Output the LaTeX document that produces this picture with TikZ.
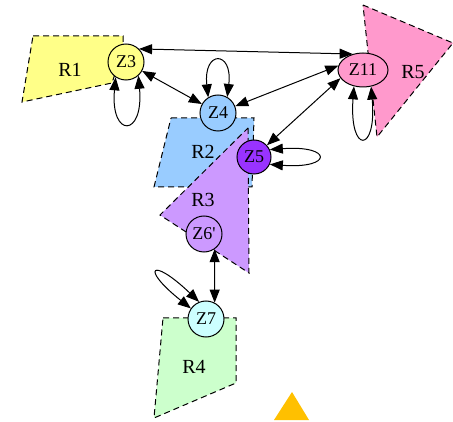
\documentclass[tikz,border=0pt]{standalone}
\usepackage{fontspec}
\setmainfont{Liberation Serif}
\usetikzlibrary{shapes.geometric,arrows.meta}
\definecolor{cyel}{HTML}{FFFF88}
\definecolor{cblue}{HTML}{99CCFF}
\definecolor{cpurp}{HTML}{CC99FF}
\definecolor{cdpurp}{HTML}{9933FF}
\definecolor{cgreen}{HTML}{CCFFCC}
\definecolor{ccyan}{HTML}{CCFFFF}
\definecolor{cpink}{HTML}{FF99CC}
\definecolor{corange}{HTML}{FFC000}
\tikzset{
  region/.style={draw=black, dash pattern=on 6pt off 4pt, line width=1pt},
  rlabel/.style={font=\fontsize{20}{24}\selectfont, inner sep=0pt},
  zone/.style={circle, draw=black, line width=1pt, minimum size=36pt, inner sep=0pt, font=\fontsize{18}{22}\selectfont},
  zell/.style={ellipse, draw=black, line width=1pt, minimum width=50pt, minimum height=34pt, inner sep=0pt, font=\fontsize{18}{22}\selectfont},
  link/.style={line width=1pt, {Triangle[length=13pt,width=10pt]}-{Triangle[length=13pt,width=10pt]}},
}
\begin{document}
\begin{tikzpicture}[x=1pt,y=1pt]
\useasboundingbox (0,0) rectangle (453,421);
% regions
\fill[cyel] (33,385) -- (123,385) -- (123,371) -- (112,338) -- (22,319) -- cycle;
\draw[region] (33,385) -- (123,385) -- (123,371) -- (112,338) -- (22,319) -- cycle;
\fill[cblue] (171,303) -- (254,303) -- (252,234) -- (154,234) -- cycle;
\draw[region] (171,303) -- (254,303) -- (252,234) -- (154,234) -- cycle;
\fill[cpurp] (248,293) -- (249,148) -- (160,206) -- cycle;
\draw[region] (248,293) -- (249,148) -- (160,206) -- cycle;
\fill[cgreen] (163,103) -- (236,103) -- (236,38) -- (154,3) -- cycle;
\draw[region] (163,103) -- (236,103) -- (236,38) -- (154,3) -- cycle;
\fill[cpink] (363,416) -- (453,378) -- (377,284) -- cycle;
\draw[region] (363,416) -- (453,378) -- (377,284) -- cycle;
\fill[corange] (292,29) -- (274,1) -- (309,1) -- cycle;
% region labels
\node[rlabel] (R1) at (70,351) {R1};
\node[rlabel] (R2) at (203,269) {R2};
\node[rlabel] (R3) at (203,221) {R3};
\node[rlabel] (R4) at (194,54) {R4};
\node[rlabel] (R5) at (413,349) {R5};
% zone nodes
\node[zone, fill=cyel] (Z3) at (126,359) {Z3};
\node[zone, fill=cblue] (Z4) at (218,308) {Z4};
\node[zone, fill=cdpurp, minimum size=34pt] (Z5) at (254,264) {Z5};
\node[zone, fill=cpurp] (Z6) at (204,187) {Z6\textquotesingle};
\node[zone, fill=ccyan] (Z7) at (206,102) {Z7};
\node[zell, fill=cpink] (Z11) at (363,351) {Z11};
% connectors
\draw[link] (Z3.45) -- (Z11.123);
\draw[link] (Z3) -- (Z4);
\draw[link] (Z4) -- (Z11.170);
\draw[link] (Z5) -- (Z11.200);
\draw[link] (Z6.-55) -- (Z7.62);
% self loops
\draw[link] (Z3.-124) .. controls (110,283) and (144,283) .. (Z3.-48);
\draw[link] (Z4.122) .. controls (203,371) and (233,371) .. (Z4.60);
\draw[link] (Z11.-119) .. controls (349,267) and (377,267) .. (Z11.-64);
\draw[link] (Z5.25) .. controls (333,276) and (333,252) .. (Z5.-25);
\draw[link] (Z7.145) .. controls (140,153) and (151,165) .. (Z7.112);
\end{tikzpicture}
\end{document}
